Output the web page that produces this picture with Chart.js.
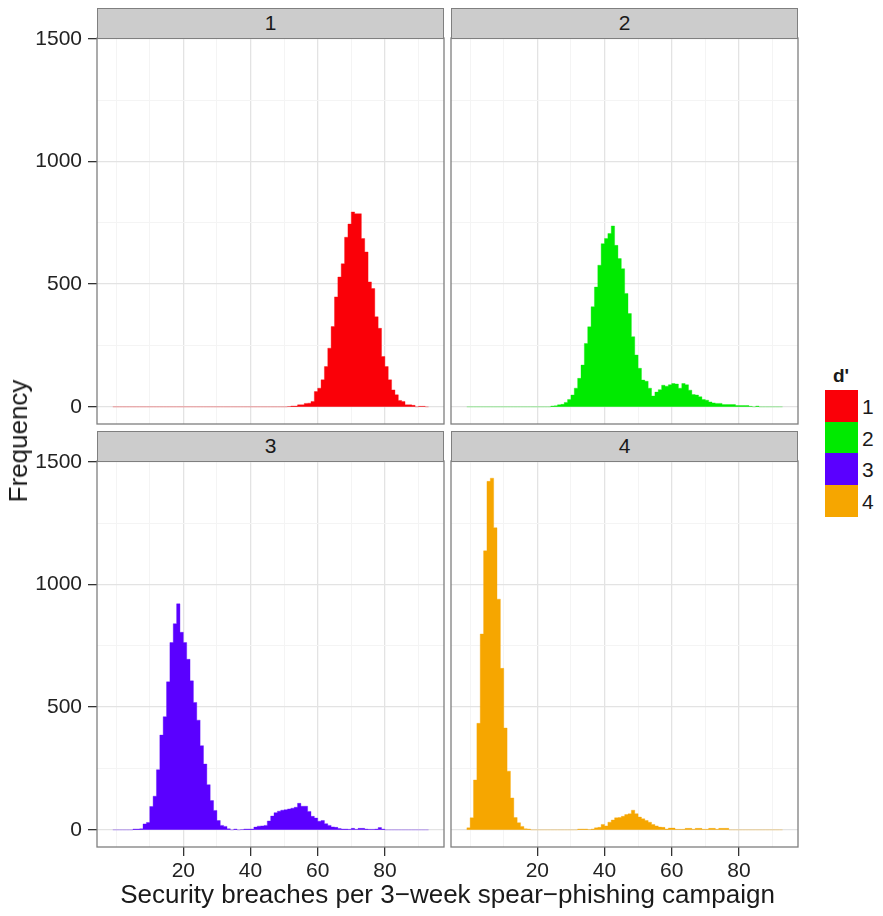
<!DOCTYPE html>
<html>
<head>
<meta charset="utf-8">
<script src="https://cdn.jsdelivr.net/npm/chart.js@4.4.0/dist/chart.umd.min.js"></script>
<style>
  html, body { margin:0; padding:0; background:#fff; }
  body { width:883px; height:916px; position:relative; overflow:hidden; font-family:"Liberation Sans", Arial, sans-serif; color:#1a1a1a; }
  canvas { position:absolute; }
  .strip { position:absolute; box-sizing:border-box; background:#CCCCCC; border:1.3px solid #7F7F7F; text-align:center; font-size:21px; line-height:28px; color:#1a1a1a; }
  .key { position:absolute; left:825px; width:33px; height:31.7px; }
  .klab { position:absolute; left:862px; font-size:21px; line-height:21px; }
</style>
</head>
<body>
<canvas id="p1" width="447" height="404" style="left:0px; top:23px;"></canvas>
<canvas id="p2" width="353" height="404" style="left:448px; top:23px;"></canvas>
<canvas id="p3" width="447" height="470" style="left:0px; top:446px;"></canvas>
<canvas id="p4" width="353" height="470" style="left:448px; top:446px;"></canvas>

<div class="strip" style="left:97px; top:8px; width:347px; height:31px;">1</div>
<div class="strip" style="left:451px; top:8px; width:347px; height:31px;">2</div>
<div class="strip" style="left:97px; top:431px; width:347px; height:31px;">3</div>
<div class="strip" style="left:451px; top:431px; width:347px; height:31px;">4</div>

<div style="position:absolute; left:18px; top:441px; transform:translate(-50%,-50%) rotate(-90deg); font-size:26px; white-space:nowrap; line-height:26px;">Frequency</div>
<div style="position:absolute; left:0; top:881px; width:895px; text-align:center; font-size:26px; line-height:26px; white-space:nowrap;">Security breaches per 3−week spear−phishing campaign</div>

<div style="position:absolute; left:833px; top:366px; font-size:19px; font-weight:bold; line-height:19px;">d'</div>
<div id="legend"></div>

<script>
// ---- data (bin left edges, bin width 1) ----
const BIN_WIDTH = 1;
const BIN_LEFT = [-1,0,1,2,3,4,5,6,7,8,9,10,11,12,13,14,15,16,17,18,19,20,21,22,23,24,25,26,27,28,29,30,31,32,33,34,35,36,37,38,39,40,41,42,43,44,45,46,47,48,49,50,51,52,53,54,55,56,57,58,59,60,61,62,63,64,65,66,67,68,69,70,71,72,73,74,75,76,77,78,79,80,81,82,83,84,85,86,87,88,89,90,91,92];

const FACETS = ["1","2","3","4"];
const COLORS = ["#FA0008","#00EA00","#5A00FF","#F6A600"];

// d' = 1 (red)
const COUNTS_1 = [0,0,0,0,0,0,0,0,0,0, 0,0,0,0,0,0,0,0,0,0, 0,0,0,0,0,0,0,0,0,0, 0,0,0,0,0,0,0,0,0,0, 0,0,0,0,0,0,0,0,0,0, 0,0,0,
  1,3,3,8,8,14,15,22,62,76,110,164,239,327,448,529,583,691,745,794,787,787,686,631,509,482,367,320,205,164,110,69,49,26,22,8,8,6,0,2,2];
// d' = 2 (green)
const COUNTS_2 = [0,0,0,0,0,0,0,0,0,0, 0,0,0,0,0,0,0,0,0,0, 0,0,0,0,0,0,
  3,4,8,10,18,30,48,76,116,170,258,326,408,488,577,665,686,706,737,658,604,563,462,380,286,211,157,109,104,76,44,60,70,88,84,90,95,93,76,95,90,68,50,48,41,30,27,20,16,14,14,9,9,9,9,5,5,5,5,2,0,3,0,0,0,0,0,0];
// d' = 3 (purple)
const COUNTS_3 = [0,0,0,0,0,0,0,
  3,3,4,24,30,95,137,245,386,461,603,763,840,921,805,763,695,607,519,447,343,268,184,119,79,38,18,14,4,0,3,0,1,3,3,3,11,15,16,18,36,56,70,76,80,82,85,88,92,108,96,96,75,55,48,35,38,25,18,12,10,5,3,3,2,6,2,6,6,3,2,2,3,9,3,
  0,0,0,0,0,0,0,0,0,0,0,0];
// d' = 4 (orange)
const COUNTS_4 = [0,
  8,49,203,434,798,1137,1420,1433,1231,940,658,415,239,130,50,29,14,4,3,
  0,0,0,0,0,0,0,0,0,0,0,0,0,0,
  3,3,3,1,3,8,10,22,16,31,40,49,50,55,62,65,80,66,52,45,38,31,22,16,11,10,3,7,7,2,2,2,6,6,2,6,6,2,2,6,6,2,6,6,6,
  0,0,0,0,0,0,0,0,0,0,0,0,0,0,0];

const X_GRID = [0,10,20,30,40,50,60,70,80,90];
const X_LABELS = [20,40,60,80];
const Y_GRID = [0,250,500,750,1000,1250,1500];
const Y_LABELS = [0,500,1000,1500];
const X_MIN = -5.7, X_MAX = 97.6;
const Y_MIN = -70, Y_MAX = 1503;

const FONT = "'Liberation Sans', Arial, sans-serif";

function hexA(hex, a) {
  const n = parseInt(hex.slice(1), 16);
  return `rgba(${(n>>16)&255},${(n>>8)&255},${n&255},${a})`;
}

function stepData(counts) {
  const pts = BIN_LEFT.map((L, i) => ({ x: L, y: counts[i] }));
  pts.push({ x: BIN_LEFT[BIN_LEFT.length - 1] + BIN_WIDTH, y: 0 });
  return pts;
}

const panelBorder = {
  id: 'panelBorder',
  afterDraw(chart) {
    const { ctx, chartArea: a } = chart;
    ctx.save();
    ctx.strokeStyle = '#7F7F7F';
    ctx.lineWidth = 1.3;
    ctx.strokeRect(a.left, a.top, a.right - a.left, a.bottom - a.top);
    ctx.restore();
  }
};

function makePanel(id, counts, color, showY, showX) {
  const isMajorX = v => X_LABELS.includes(v);
  const isMajorY = v => Y_LABELS.includes(v);
  new Chart(document.getElementById(id), {
    type: 'line',
    data: {
      datasets: [{
        data: stepData(counts),
        stepped: 'after',
        fill: 'origin',
        backgroundColor: color,
        borderColor: hexA(color, 0.35),
        borderWidth: 1,
        pointRadius: 0,
        tension: 0
      }]
    },
    options: {
      responsive: false,
      animation: false,
      devicePixelRatio: 1,
      layout: { padding: { top: 15, left: 3, right: 3, bottom: 3 } },
      plugins: { legend: { display: false }, tooltip: { enabled: false } },
      scales: {
        x: {
          type: 'linear',
          min: X_MIN, max: X_MAX,
          afterBuildTicks: s => { s.ticks = X_GRID.map(v => ({ value: v })); },
          afterFit: s => { s.height = showX ? 66 : 0; s.paddingLeft = 0; s.paddingRight = 0; },
          border: { display: false },
          grid: {
            color: c => isMajorX(c.tick.value) ? '#E3E3E3' : '#F4F4F4',
            lineWidth: c => isMajorX(c.tick.value) ? 1.3 : 1,
            drawTicks: showX,
            tickLength: 9,
            tickColor: c => isMajorX(c.tick.value) ? '#333333' : 'rgba(0,0,0,0)'
          },
          ticks: {
            display: showX,
            autoSkip: false,
            maxRotation: 0,
            padding: 3,
            color: '#222',
            font: { family: FONT, size: 21 },
            callback: v => X_LABELS.includes(v) ? String(v) : ''
          }
        },
        y: {
          type: 'linear',
          min: Y_MIN, max: Y_MAX,
          afterBuildTicks: s => { s.ticks = Y_GRID.map(v => ({ value: v })); },
          afterFit: s => { s.width = showY ? 94 : 0; s.paddingTop = 0; s.paddingBottom = 0; },
          border: { display: false },
          grid: {
            color: c => isMajorY(c.tick.value) ? '#E3E3E3' : '#F4F4F4',
            lineWidth: c => isMajorY(c.tick.value) ? 1.3 : 1,
            drawTicks: showY,
            tickLength: 9,
            tickColor: c => isMajorY(c.tick.value) ? '#333333' : 'rgba(0,0,0,0)'
          },
          ticks: {
            display: showY,
            autoSkip: false,
            padding: 6,
            color: '#222',
            font: { family: FONT, size: 21 },
            callback: v => Y_LABELS.includes(v) ? String(v) : ''
          }
        }
      }
    },
    plugins: [panelBorder]
  });
}

makePanel('p1', COUNTS_1, COLORS[0], true, false);
makePanel('p2', COUNTS_2, COLORS[1], false, false);
makePanel('p3', COUNTS_3, COLORS[2], true, true);
makePanel('p4', COUNTS_4, COLORS[3], false, true);

// legend
const leg = document.getElementById('legend');
FACETS.forEach((f, i) => {
  const top = 390 + i * 31.7;
  const k = document.createElement('div');
  k.className = 'key';
  k.style.top = top + 'px';
  k.style.background = COLORS[i];
  leg.appendChild(k);
  const t = document.createElement('div');
  t.className = 'klab';
  t.style.top = (top + 6) + 'px';
  t.textContent = f;
  leg.appendChild(t);
});
</script>
</body>
</html>
